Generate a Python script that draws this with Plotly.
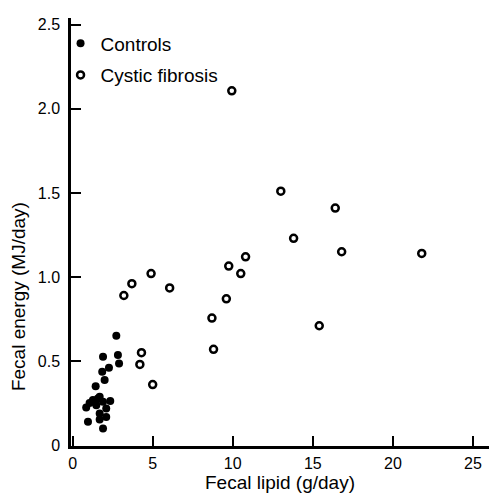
import plotly.graph_objects as go

# Controls
ctrl_lipid = [2.73, 1.90, 2.83, 2.90, 2.27, 1.85, 2.00, 1.44, 1.69, 1.27, 2.35, 1.90,
              0.85, 1.48, 2.10, 1.69, 2.10, 0.96, 1.69, 1.90, 1.58, 1.06]
ctrl_energy = [0.65, 0.525, 0.536, 0.486, 0.46, 0.436, 0.387, 0.351, 0.288, 0.268, 0.262, 0.258,
               0.224, 0.238, 0.218, 0.188, 0.168, 0.139, 0.153, 0.099, 0.278, 0.25]

# Cystic fibrosis
cf_lipid = [9.94, 13.0, 16.4, 13.8, 16.8, 21.8, 10.8, 9.75, 10.5, 9.6, 8.7, 8.8,
            15.4, 6.06, 4.9, 3.7, 3.2, 4.3, 4.2, 5.0]
cf_energy = [2.107, 1.51, 1.41, 1.23, 1.15, 1.14, 1.12, 1.065, 1.02, 0.87, 0.756, 0.57,
             0.71, 0.935, 1.02, 0.96, 0.89, 0.55, 0.48, 0.36]

x_ticks = [0, 5, 10, 15, 20, 25]
y_ticks = [0, 0.5, 1.0, 1.5, 2.0, 2.5]
y_ticktext = ["0", "0.5", "1.0", "1.5", "2.0", "2.5"]

x_title = "Fecal lipid (g/day)"
y_title = "Fecal energy (MJ/day)"

FONT = "Liberation Sans, Arial, Helvetica, sans-serif"

fig = go.Figure()
fig.add_trace(go.Scatter(
    x=ctrl_lipid, y=ctrl_energy, mode="markers", name="Controls",
    legendgroup="a",
    marker=dict(symbol="circle", size=8, color="black"),
))
fig.add_trace(go.Scatter(
    x=cf_lipid, y=cf_energy, mode="markers", name="Cystic fibrosis",
    legendgroup="b",
    marker=dict(symbol="circle-open", size=7, color="black", line=dict(width=2.5, color="black")),
))

fig.update_layout(
    width=489, height=500,
    margin=dict(l=71, r=0, t=18, b=54),
    paper_bgcolor="white", plot_bgcolor="white",
    font=dict(family=FONT, size=16, color="black"),
    showlegend=True,
    legend=dict(
        x=-0.025, y=0.985, xanchor="left", yanchor="top",
        bgcolor="rgba(0,0,0,0)", font=dict(size=19),
        tracegroupgap=4, itemwidth=30,
    ),
    xaxis=dict(
        range=[-0.1, 26.0], tickvals=x_ticks, ticks="inside", ticklen=10, tickwidth=2,
        tickcolor="black", showline=True, linecolor="black", linewidth=2.5,
        showgrid=False, zeroline=False, ticklabelstandoff=1,
        title=dict(text=x_title, font=dict(size=19), standoff=4),
    ),
    yaxis=dict(
        range=[-0.005, 2.54], tickvals=y_ticks, ticktext=y_ticktext, ticks="inside",
        ticklen=10, tickwidth=2, tickcolor="black", showline=True, linecolor="black",
        linewidth=2.5, showgrid=False, zeroline=False, ticklabelstandoff=5,
    ),
    annotations=[dict(
        text=y_title, textangle=-90, xref="paper", yref="paper",
        x=-0.127, y=0.35, xanchor="center", yanchor="middle",
        showarrow=False, font=dict(size=19),
    )],
)

fig.write_html("out.html")
